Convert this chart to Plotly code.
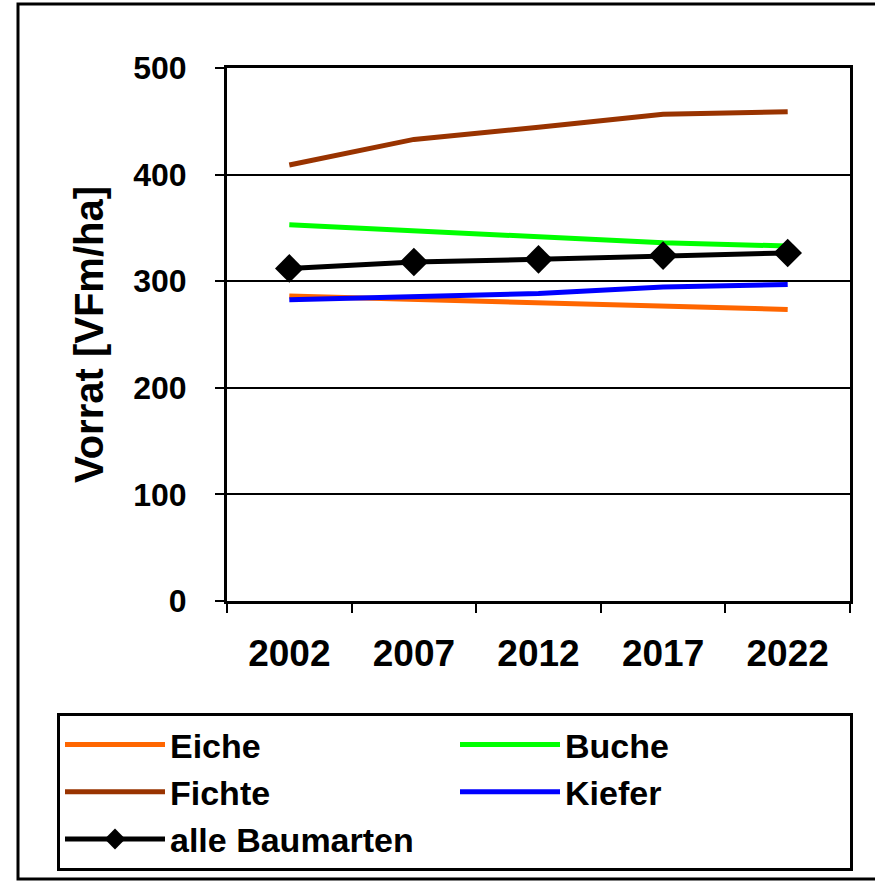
import plotly.graph_objects as go

# Survey years (categorical x-axis)
years = ["2002", "2007", "2012", "2017", "2022"]

# Growing stock per tree species [VFm/ha]
eiche = [286, 283, 279.5, 276, 273.5]
buche = [353, 347, 341.5, 336, 333]
fichte = [409, 433, 444.5, 456.5, 459]
kiefer = [282.5, 285, 288.5, 294.5, 297]
alle_baumarten = [312, 318, 320.5, 324, 326.5]

y_ticks = [0, 100, 200, 300, 400, 500]

W, H = 875, 885
L, R, T, B = 227, 850, 68, 601  # plot area in pixels


def px_x(px):
    return (px - L) / (R - L)


def px_y(py):
    return (B - py) / (B - T)


FONT = "Liberation Sans, Arial, sans-serif"

fig = go.Figure()

series = [
    ("Eiche", eiche, "#FF6600"),
    ("Buche", buche, "#00FF00"),
    ("Fichte", fichte, "#993300"),
    ("Kiefer", kiefer, "#0000FF"),
]
for name, vals, col in series:
    fig.add_trace(go.Scatter(
        x=years, y=vals, name=name, mode="lines",
        line=dict(color=col, width=5),
    ))

fig.add_trace(go.Scatter(
    x=years, y=alle_baumarten, name="alle Baumarten", mode="lines+markers",
    line=dict(color="black", width=5),
    marker=dict(symbol="diamond", size=22, color="black"),
))

# outer frame around the whole chart
fig.add_shape(
    type="rect", xref="paper", yref="paper",
    x0=px_x(18), x1=px_x(884), y0=px_y(879), y1=px_y(4),
    line=dict(color="black", width=3), fillcolor="rgba(0,0,0,0)",
    layer="below",
)

fig.update_layout(
    width=W, height=H,
    margin=dict(l=L, r=W - R, t=T, b=H - B, autoexpand=False),
    paper_bgcolor="white", plot_bgcolor="white",
    font=dict(family=FONT, color="black", size=32, weight="bold"),
    showlegend=True,
    legend=dict(
        orientation="h",
        x=px_x(57), y=px_y(713), xanchor="left", yanchor="top",
        entrywidth=280, entrywidthmode="pixels",
        bordercolor="black", borderwidth=3,
        bgcolor="white",
        font=dict(family=FONT, size=34, color="black", weight="bold"),
        itemwidth=100,
    ),
    xaxis=dict(
        type="category", range=[-0.5, 4.5],
        tickson="boundaries", ticks="outside", ticklen=9, tickwidth=2,
        tickcolor="black",
        showline=True, linecolor="black", linewidth=3, mirror=True,
        showgrid=False,
        tickfont=dict(family=FONT, size=37, weight="bold"),
        ticklabelstandoff=18,
    ),
    yaxis=dict(
        range=[0, 500], tickvals=y_ticks,
        ticks="outside", ticklen=9, tickwidth=2, tickcolor="black",
        showline=True, linecolor="black", linewidth=3, mirror=True,
        showgrid=True, gridcolor="black", gridwidth=2,
        zeroline=False,
        tickfont=dict(family=FONT, size=32, weight="bold"),
        ticklabelstandoff=22,
        title=dict(text="Vorrat [VFm/ha]", standoff=18,
                   font=dict(family=FONT, size=40, weight="bold")),
    ),
)

fig.write_html("out.html")
